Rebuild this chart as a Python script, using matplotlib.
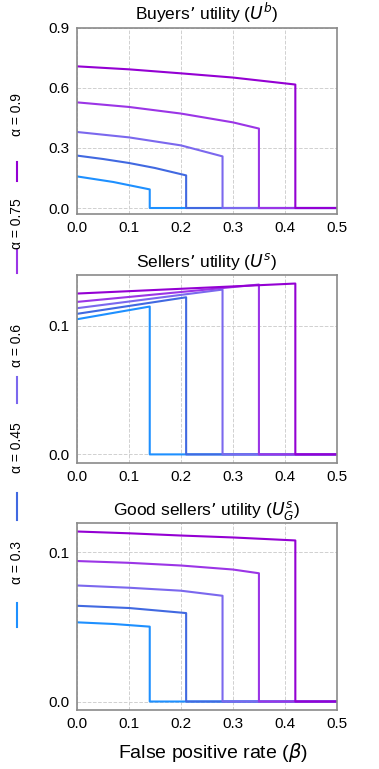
import matplotlib
matplotlib.use("Agg")
import matplotlib.pyplot as plt
from matplotlib.lines import Line2D

plt.rcParams["font.family"] = ["Liberation Sans", "DejaVu Sans"]
plt.rcParams["mathtext.fontset"] = "dejavusans"

# =========================
# DATA
# =========================
alphas = [0.3, 0.45, 0.6, 0.75, 0.9]
labels = ["α = 0.3", "α = 0.45", "α = 0.6", "α = 0.75", "α = 0.9"]
colors = ["#1E90FF", "#4169E1", "#7B68EE", "#9B35E6", "#9400D3"]
cutoffs = [0.14, 0.21, 0.28, 0.35, 0.42]
x_end = 0.5

# buyers' utility
buy_x = [
    [0.0, 0.07, 0.14],
    [0.0, 0.05, 0.1, 0.15, 0.21],
    [0.0, 0.1, 0.2, 0.28],
    [0.0, 0.1, 0.2, 0.3, 0.35],
    [0.0, 0.1, 0.2, 0.3, 0.42],
]
buy_y = [
    [0.158, 0.130, 0.093],
    [0.262, 0.245, 0.225, 0.200, 0.163],
    [0.380, 0.353, 0.313, 0.258],
    [0.528, 0.505, 0.472, 0.428, 0.397],
    [0.708, 0.693, 0.673, 0.652, 0.617],
]

# sellers' utility
sel_x = [
    [0.0, 0.14],
    [0.0, 0.21],
    [0.0, 0.28],
    [0.0, 0.35],
    [0.0, 0.42],
]
sel_y = [
    [0.1052, 0.1151],
    [0.1094, 0.1223],
    [0.1138, 0.1283],
    [0.1187, 0.1322],
    [0.1252, 0.1330],
]

# good sellers' utility
good_x = [
    [0.0, 0.07, 0.14],
    [0.0, 0.1, 0.21],
    [0.0, 0.1, 0.2, 0.28],
    [0.0, 0.1, 0.2, 0.3, 0.35],
    [0.0, 0.1, 0.2, 0.3, 0.42],
]
good_y = [
    [0.0531, 0.0520, 0.0502],
    [0.0642, 0.0627, 0.0593],
    [0.0778, 0.0763, 0.0743, 0.0709],
    [0.0942, 0.0930, 0.0912, 0.0885, 0.0860],
    [0.1140, 0.1128, 0.1113, 0.1100, 0.1080],
]

titles = [
    "Buyers’ utility ($U^b$)",
    "Sellers’ utility ($U^s$)",
    "Good sellers’ utility ($U^s_G$)",
]
panels = [(buy_x, buy_y), (sel_x, sel_y), (good_x, good_y)]
yticks = [[0.0, 0.3, 0.6, 0.9], [0.0, 0.1], [0.0, 0.1]]

# =========================
# FIGURE
# =========================
fig = plt.figure(figsize=(3.79, 7.69), dpi=100)
rects = [
    [0.203, 0.7217, 0.686, 0.2420],
    [0.203, 0.3980, 0.686, 0.2444],
    [0.203, 0.0767, 0.686, 0.2432],
]

for k, (px, py) in enumerate(panels):
    ax = fig.add_axes(rects[k])
    for i in range(len(alphas)):
        xs = list(px[i]) + [cutoffs[i], x_end]
        ys = list(py[i]) + [0.0, 0.0]
        ax.plot(xs, ys, color=colors[i], lw=1.5)
    ax.set_xlim(0, 0.5)
    ax.set_xticks([0.0, 0.1, 0.2, 0.3, 0.4, 0.5])
    ax.set_yticks(yticks[k])
    ax.set_xticklabels(["0.0", "0.1", "0.2", "0.3", "0.4", "0.5"])
    ax.set_yticklabels(["%.1f" % v for v in yticks[k]])
    if k == 0:
        ax.set_ylim(-0.03, 0.9)
    ax.grid(True, ls="--", color="#d0d0d0", lw=0.7)
    ax.tick_params(labelsize=11, length=0, pad=5)
    for s in ax.spines.values():
        s.set_color("#8a8a8a")
        s.set_linewidth(1.2)
    ax.set_title(titles[k], fontsize=12.5, pad=6)

fig.text(0.562, 0.022, "False positive rate ($\\beta$)", ha="center",
         va="center", fontsize=14)

# vertical legend down the left side
text_y = [563, 448, 345, 224, 115]
line_y = [(603, 627), (493, 520), (377, 403), (250, 273), (162, 181)]
H = 769.0
for i in range(len(alphas)):
    fig.text(0.045, 1 - text_y[i] / H, labels[i], rotation=90,
             ha="center", va="center", fontsize=10)
    y0, y1 = line_y[i]
    fig.add_artist(Line2D([0.045, 0.045], [1 - y0 / H, 1 - y1 / H],
                          color=colors[i], lw=1.5, transform=fig.transFigure))

fig.savefig("out.png", dpi=100)
